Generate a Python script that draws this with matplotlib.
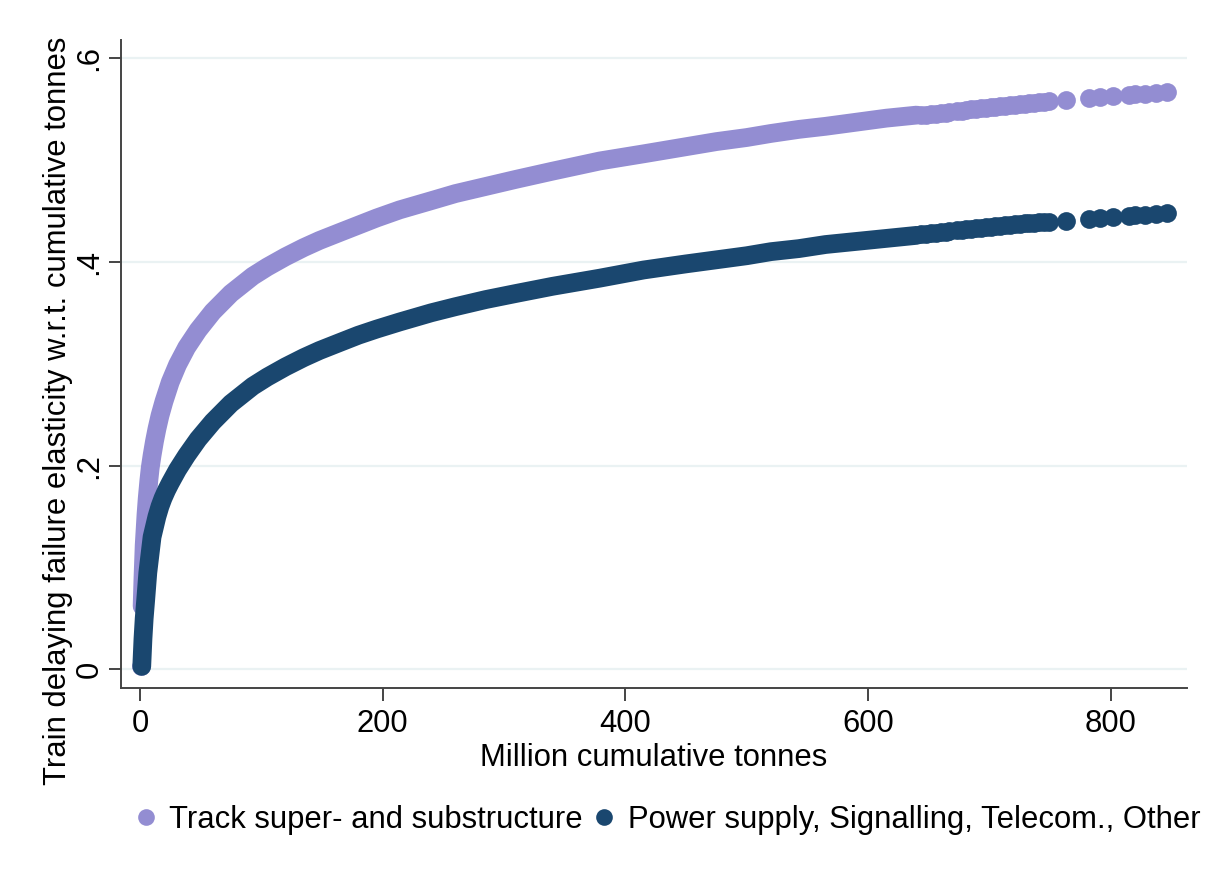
import matplotlib
matplotlib.use("Agg")
import matplotlib.pyplot as plt
from matplotlib.lines import Line2D

plt.rcParams['font.family'] = ['Liberation Sans', 'DejaVu Sans']

# ---- data ----
# Track super- and substructure (dense part of the curve; first point is an isolated low observation)
x_track = [0.5, 1.8, 2.5, 3.5, 5, 6, 7.4, 8.5, 10, 12, 14, 16.5, 19.8, 25, 31, 38.5, 48, 60,
           75, 93, 105, 120, 135, 148, 165, 180, 195, 214, 240, 260, 285, 310, 340, 379, 415,
           450, 475, 500, 520, 543, 565, 590, 615, 640]
y_track = [0.003, 0.062, 0.09, 0.122, 0.152, 0.168, 0.186, 0.198, 0.210, 0.224, 0.236, 0.249,
           0.263, 0.282, 0.299, 0.316, 0.333, 0.351, 0.369, 0.386, 0.395, 0.405, 0.414, 0.421,
           0.429, 0.436, 0.443, 0.451, 0.460, 0.467, 0.474, 0.481, 0.489, 0.499, 0.506, 0.513,
           0.518, 0.522, 0.526, 0.530, 0.533, 0.537, 0.541, 0.544]

# Power supply, Signalling, Telecom., Other (dense part)
x_power = [1.5, 2.5, 3.5, 4.8, 6.5, 8.5, 10, 12, 14, 16.5, 19, 22, 25, 31, 38.5, 48, 60, 75,
           93, 105, 120, 135, 148, 165, 180, 195, 214, 240, 260, 285, 310, 340, 379, 415, 450,
           475, 500, 520, 543, 565, 590, 615, 640]
y_power = [0.003, 0.03, 0.05, 0.069, 0.095, 0.115, 0.13, 0.14, 0.15, 0.16, 0.168, 0.176, 0.183,
           0.196, 0.21, 0.226, 0.243, 0.261, 0.278, 0.287, 0.297, 0.306, 0.313, 0.321, 0.328,
           0.334, 0.341, 0.350, 0.356, 0.363, 0.369, 0.376, 0.384, 0.392, 0.398, 0.402, 0.406,
           0.410, 0.413, 0.417, 0.420, 0.423, 0.426]

# Sparse observations at high cumulative tonnage (same x for both groups)
x_sparse = [644, 648, 652, 656, 660, 664, 667, 673, 677, 681, 685, 689, 693, 697, 701, 705,
            709, 713, 717, 721, 725, 729, 733, 737, 741, 745, 749, 763, 782, 791, 802, 815,
            820, 828, 837, 846]
track_sparse = [0.544, 0.5445, 0.545, 0.5455, 0.546, 0.5465, 0.547, 0.548, 0.5485, 0.549,
                0.5495, 0.550, 0.5505, 0.551, 0.5515, 0.552, 0.5525, 0.553, 0.5535, 0.554,
                0.5545, 0.555, 0.5555, 0.556, 0.5565, 0.557, 0.5575, 0.559, 0.561, 0.562,
                0.563, 0.564, 0.5645, 0.565, 0.566, 0.5665]
power_sparse = [0.427, 0.4275, 0.428, 0.4285, 0.429, 0.4295, 0.430, 0.431, 0.4315, 0.432,
                0.4325, 0.433, 0.4335, 0.434, 0.4345, 0.435, 0.4355, 0.436, 0.4365, 0.437,
                0.4375, 0.438, 0.438, 0.4385, 0.439, 0.439, 0.4395, 0.440, 0.442, 0.443,
                0.444, 0.445, 0.4455, 0.446, 0.447, 0.448]

series_names = ["Track super- and substructure", "Power supply, Signalling, Telecom., Other"]
x_ticks = [0, 200, 400, 600, 800]
y_ticks = [0, 0.2, 0.4, 0.6]
y_tick_labels = ["0", ".2", ".4", ".6"]

# ---- style ----
c_track = "#938dd2"
c_power = "#1a476f"
axis_c = "#444444"
grid_c = "#eaf2f3"
FS = 22.3
msize = 13.5  # marker diameter in points

fig = plt.figure(figsize=(12.14, 8.81), dpi=100)
ax = fig.add_axes([121/1214, 1 - 688/881, (1187-121)/1214, (688-40)/881])

ax.set_xlim(-15.6, 862.8)
ax.set_ylim(-0.0182, 0.6177)

for yv in y_ticks:
    ax.axhline(yv, color=grid_c, lw=1.6, zorder=0)

# Track series: dense band drawn as a thick path through the observations, isolated dots as markers
ax.plot(x_track[1:], y_track[1:], color=c_track, lw=msize, solid_capstyle='round',
        solid_joinstyle='round', zorder=2)
ax.scatter([x_track[0]] + x_sparse, [y_track[0]] + track_sparse, s=msize**2, color=c_track,
           linewidths=0, zorder=2)

# Power series
ax.plot(x_power, y_power, color=c_power, lw=msize, solid_capstyle='round',
        solid_joinstyle='round', zorder=3)
ax.scatter(x_sparse, power_sparse, s=msize**2, color=c_power, linewidths=0, zorder=3)

for s in ['top', 'right']:
    ax.spines[s].set_visible(False)
for s in ['left', 'bottom']:
    ax.spines[s].set_color(axis_c)
    ax.spines[s].set_linewidth(1.4)

ax.set_xticks(x_ticks)
ax.set_xticklabels([str(v) for v in x_ticks])
ax.set_yticks(y_ticks)
ax.set_yticklabels(y_tick_labels)
ax.tick_params(axis='both', direction='out', length=9, width=1.4, color=axis_c,
               labelsize=FS, labelcolor='black')
ax.tick_params(axis='x', pad=6)
ax.tick_params(axis='y', pad=3)
for lab in ax.get_yticklabels():
    lab.set_rotation(90)
    lab.set_va('center')

ax.set_xlabel("Million cumulative tonnes", fontsize=FS, labelpad=3)
fig.text(58/1214, 1 - 411/881, "Train delaying failure elasticity w.r.t. cumulative tonnes",
         rotation=90, ha='center', va='center', fontsize=FS)

handles = [Line2D([], [], ls='none', marker='o', markersize=12, color=c_track, mew=0),
           Line2D([], [], ls='none', marker='o', markersize=12, color=c_power, mew=0)]
fig.legend(handles, series_names, loc='center', bbox_to_anchor=(666/1214, 1 - 820/881),
           ncol=2, frameon=False, fontsize=FS, handletextpad=0.3, columnspacing=0.25,
           handlelength=0.9, borderpad=0)

fig.savefig("out.png", dpi=100, facecolor='white')
